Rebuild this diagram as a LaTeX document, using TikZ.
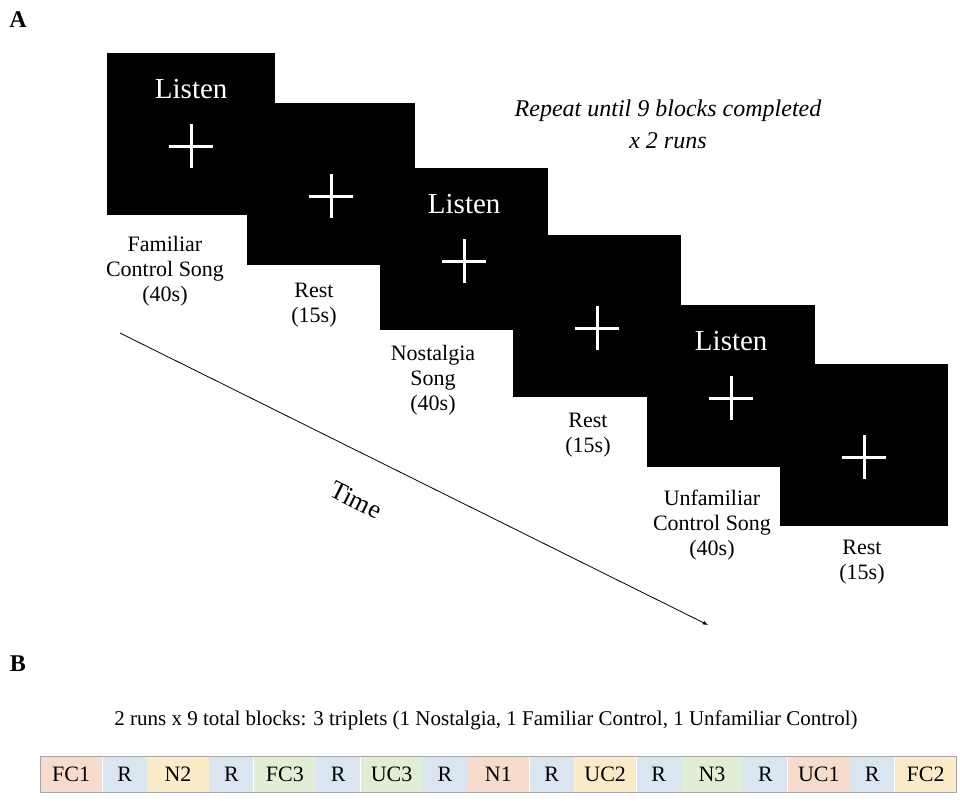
\documentclass[tikz,border=0pt]{standalone}
\usepackage{fontspec}
\setmainfont{Liberation Serif}
\usetikzlibrary{positioning}
\begin{document}
\begin{tikzpicture}[x=1pt,y=-1pt,>=latex,
  panel/.style={fill=black,draw=none,minimum width=168pt,minimum height=162pt,inner sep=0pt},
  lbl/.style={align=center,font=\fontsize{22}{25}\selectfont},
  cell/.style={minimum height=36pt,inner sep=0pt,font=\fontsize{22}{24}\selectfont}]
\useasboundingbox (0,0) rectangle (960,804);
% panels, each over the last
\foreach \n/\x/\y in {1/107/53,2/247/103,3/380/168,4/513/235,5/647/305,6/780/364}
  \node[panel,anchor=north west] (p\n) at (\x,\y) {};
% Listen and crosses
\foreach \n/\l in {1/1,2/0,3/1,4/0,5/1,6/0}{
  \coordinate (c\n) at ([yshift=-12pt]p\n.center);
  \draw[white,line width=3pt] ([xshift=-22pt]c\n) -- ([xshift=22pt]c\n);
  \draw[white,line width=3pt] ([yshift=-22pt]c\n) -- ([yshift=22pt]c\n);
  \ifnum\l=1 \node[white,font=\fontsize{29}{30}\selectfont] at ([yshift=57pt]c\n) {Listen};\fi
}
% labels
\node[lbl] (l1) at (165,271) {Familiar\\Control Song\\(40s)};
\node[lbl] (l2) at (314,305) {Rest\\(15s)};
\node[lbl] (l3) at (433,380) {Nostalgia\\Song\\(40s)};
\node[lbl] (l4) at (588,435) {Rest\\(15s)};
\node[lbl] (l5) at (712,525) {Unfamiliar\\Control Song\\(40s)};
\node[lbl] (l6) at (862,562) {Rest\\(15s)};
\node[lbl,font=\itshape\fontsize{24}{32}\selectfont] (rep) at (668,124) {Repeat until 9 blocks completed\\x 2 runs};
% time arrow
\coordinate (t0) at (120,333);
\coordinate (t1) at (708,625);
\draw[->,thick] (t0) -- (t1);
\node[rotate=-26.4,font=\fontsize{26}{28}\selectfont] (time) at (356,500) {Time};
\node[font=\bfseries\fontsize{24}{28}\selectfont] (A) at (18,20) {A};
\node[font=\bfseries\fontsize{24}{28}\selectfont] (B) at (18,664) {B};
% block sequence
\node[font=\fontsize{21}{24}\selectfont] (cap) at (486,720) {2 runs x 9 total blocks: 3 triplets (1 Nostalgia, 1 Familiar Control, 1 Unfamiliar Control)};
\definecolor{cP}{HTML}{F8DCCB}\definecolor{cY}{HTML}{FCEBC9}
\definecolor{cG}{HTML}{E1EED6}\definecolor{cB}{HTML}{DAE5F2}
\coordinate (s0) at (40,756);
\foreach \t/\c/\w [count=\i, remember=\i as \j (initially 0)] in
  {FC1/cP/62,R/cB/44,N2/cY/62,R/cB/44,FC3/cG/62,R/cB/44,UC3/cG/62,R/cB/44,N1/cP/62,
   R/cB/44,UC2/cY/62,R/cB/44,N3/cG/62,R/cB/44,UC1/cP/62,R/cB/44,FC2/cY/62}
  \node[cell,fill=\c,minimum width=\w pt,anchor=north west] (s\i) at (s\j.north east) {\t};
\draw[gray!70,thick] (s1.north west) rectangle (s17.south east);
\end{tikzpicture}
\end{document}
